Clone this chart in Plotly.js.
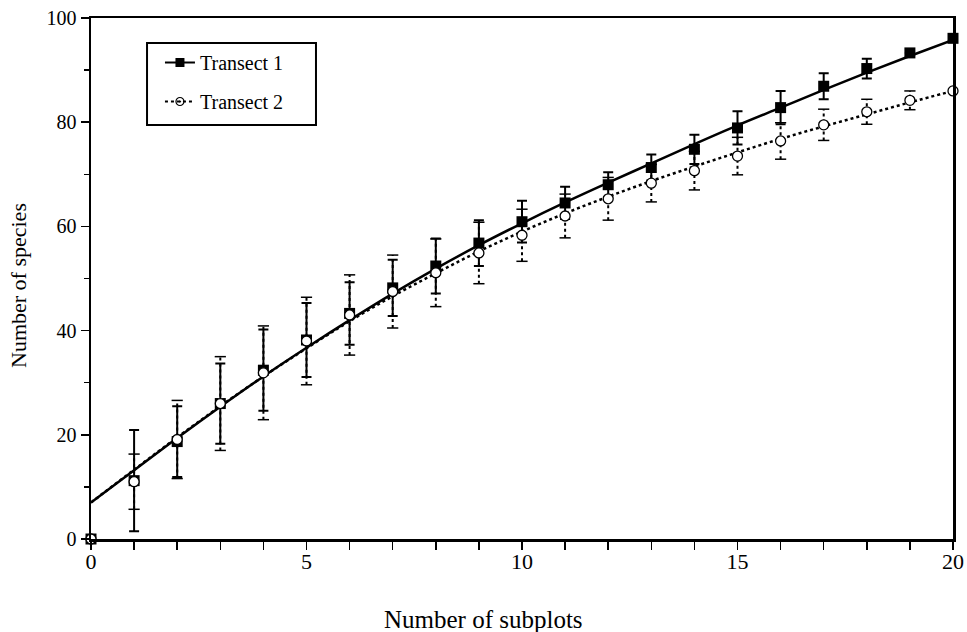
<!DOCTYPE html>
<html>
<head>
<meta charset="utf-8">
<script src="https://cdn.plot.ly/plotly-3.0.1.min.js"></script>
<style>html,body{margin:0;padding:0;background:#fff;} #chart{width:967px;height:632px;}</style>
</head>
<body>
<div id="chart"></div>
<script>
// Number of subplots (x)
const subplots = [0, 1, 2, 3, 4, 5, 6, 7, 8, 9, 10, 11, 12, 13, 14, 15, 16, 17, 18, 19, 20];

// Transect 1: observed mean species count and error (± bar half-length)
const t1Mean = [0, 11.2, 18.7, 26.0, 32.4, 38.2, 43.3, 48.2, 52.4, 56.8, 60.9, 64.5, 68.0, 71.3, 74.8, 78.9, 82.8, 86.9, 90.3, 93.3, 96.1];
const t1Err  = [0, 9.7, 6.8, 7.7, 7.8, 7.1, 6.0, 5.4, 5.3, 4.4, 4.0, 3.1, 2.4, 2.5, 2.8, 3.2, 3.2, 2.5, 1.9, 0, 0];
// Transect 1: fitted curve (read at each subplot count)
const t1Fit  = [7.0, 13.2, 19.4, 25.4, 31.2, 36.7, 42.0, 47.1, 51.9, 56.4, 60.6, 64.6, 68.4, 72.1, 75.8, 79.4, 82.8, 86.2, 89.5, 92.7, 95.8];

// Transect 2
const t2Mean = [0, 11.0, 19.1, 26.0, 31.9, 38.0, 43.0, 47.5, 51.1, 54.9, 58.3, 62.0, 65.3, 68.3, 70.7, 73.5, 76.4, 79.5, 82.0, 84.2, 86.0];
const t2Err  = [0, 5.3, 7.5, 9.0, 9.0, 8.4, 7.7, 7.0, 6.5, 5.9, 5.0, 4.2, 4.1, 3.6, 3.7, 3.6, 3.5, 3.0, 2.4, 1.8, 0];
const t2Fit  = [7.0, 13.3, 19.5, 25.5, 31.2, 36.6, 41.8, 46.6, 51.0, 55.2, 59.0, 62.5, 65.7, 68.7, 71.5, 74.2, 76.8, 79.2, 81.5, 83.8, 86.0];

const seriesNames = ['Transect 1', 'Transect 2'];
const xTitle = 'Number of subplots';
const yTitle = 'Number of species';

const FONT = 'Liberation Serif, Times New Roman, serif';

// dotted error bars for transect 2 (built from the arrays)
const ebX = [], ebY = [];
subplots.forEach((x, i) => {
  if (t2Err[i] > 0) {
    ebX.push(x, x, null);
    ebY.push(t2Mean[i] - t2Err[i], t2Mean[i] + t2Err[i], null);
  }
});

const traces = [
  { x: subplots, y: t1Fit, mode: 'lines', line: {color: '#000', width: 2.5, shape: 'spline'}, showlegend: false, hoverinfo: 'skip' },
  { x: subplots, y: t2Fit, mode: 'lines', line: {color: '#000', width: 2.5, dash: 'dot', shape: 'spline'}, showlegend: false, hoverinfo: 'skip' },
  { x: ebX, y: ebY, mode: 'lines+markers', line: {color: '#000', width: 2, dash: 'dot'},
    marker: {symbol: 'line-ew-open', size: 8, line: {color: '#000', width: 1.5}},
    showlegend: false, connectgaps: false, hoverinfo: 'skip', cliponaxis: false },
  { x: subplots, y: t1Mean, mode: 'markers', name: seriesNames[0], showlegend: false,
    marker: {symbol: 'square', size: 11, color: '#000'},
    error_y: {type: 'data', array: t1Err, visible: true, color: '#000', thickness: 2, width: 5},
    cliponaxis: false },
  { x: subplots, y: t2Mean, mode: 'markers', name: seriesNames[1], showlegend: false,
    marker: {symbol: 'circle', size: 10, color: '#fff', line: {color: '#000', width: 1.3}},
    cliponaxis: false },
  // legend entries
  { x: [null], y: [null], mode: 'lines+markers', name: seriesNames[0], legendgroup: 'a',
    line: {color: '#000', width: 2}, marker: {symbol: 'square', size: 9, color: '#000'} },
  { x: [null], y: [null], mode: 'lines+markers', name: seriesNames[1], legendgroup: 'b',
    line: {color: '#000', width: 2, dash: 'dot'}, marker: {symbol: 'circle-open-dot', size: 8, color: '#000', line: {width: 1.2}} }
];

const layout = {
  width: 967, height: 632,
  margin: {l: 91, r: 14, t: 18, b: 93},
  paper_bgcolor: '#fff', plot_bgcolor: '#fff',
  font: {family: FONT, color: '#000', size: 18},
  showlegend: true,
  legend: {x: 0.080, y: 0.952, xanchor: 'left', yanchor: 'top', bgcolor: 'rgba(0,0,0,0)',
           borderwidth: 0, font: {family: FONT, size: 20, color: '#000'},
           tracegroupgap: 10, traceorder: 'grouped'},
  shapes: [
    {type: 'rect', xref: 'paper', yref: 'paper', x0: 0.065, x1: 0.261, y0: 0.7946, y1: 0.952,
     line: {color: '#000', width: 2}, fillcolor: 'rgba(0,0,0,0)', layer: 'below'}
  ],
  xaxis: {
    range: [0, 20], tick0: 0, dtick: 5, ticks: 'outside', ticklen: 8, tickwidth: 1.5, tickcolor: '#000',
    minor: {dtick: 1, ticks: 'outside', ticklen: 8, tickwidth: 1.5, tickcolor: '#000', showgrid: false},
    showline: true, linewidth: 2.5, linecolor: '#000', mirror: true, ticklabelstandoff: -7,
    showgrid: false, zeroline: false, tickfont: {family: FONT, size: 22}, fixedrange: true
  },
  yaxis: {
    range: [0, 100], tick0: 0, dtick: 20, ticks: 'outside', ticklen: 8, tickwidth: 1.5, tickcolor: '#000',
    minor: {dtick: 10, ticks: 'outside', ticklen: 5, tickwidth: 1.5, tickcolor: '#000', showgrid: false},
    showline: true, linewidth: 2.5, linecolor: '#000', mirror: true,
    showgrid: false, zeroline: false, tickfont: {family: FONT, size: 20}, fixedrange: true
  },
  annotations: [
    {text: xTitle, xref: 'paper', yref: 'paper', x: 0.455, y: -0.155, xanchor: 'center', yanchor: 'middle',
     showarrow: false, font: {family: FONT, size: 25, color: '#000'}},
    {text: yTitle, xref: 'paper', yref: 'paper', x: -0.0847, y: 0.4875, xanchor: 'center', yanchor: 'middle',
     textangle: -90, showarrow: false, font: {family: FONT, size: 22, color: '#000'}}
  ]
};

Plotly.newPlot('chart', traces, layout, {displayModeBar: false, staticPlot: true});
</script>
</body>
</html>
